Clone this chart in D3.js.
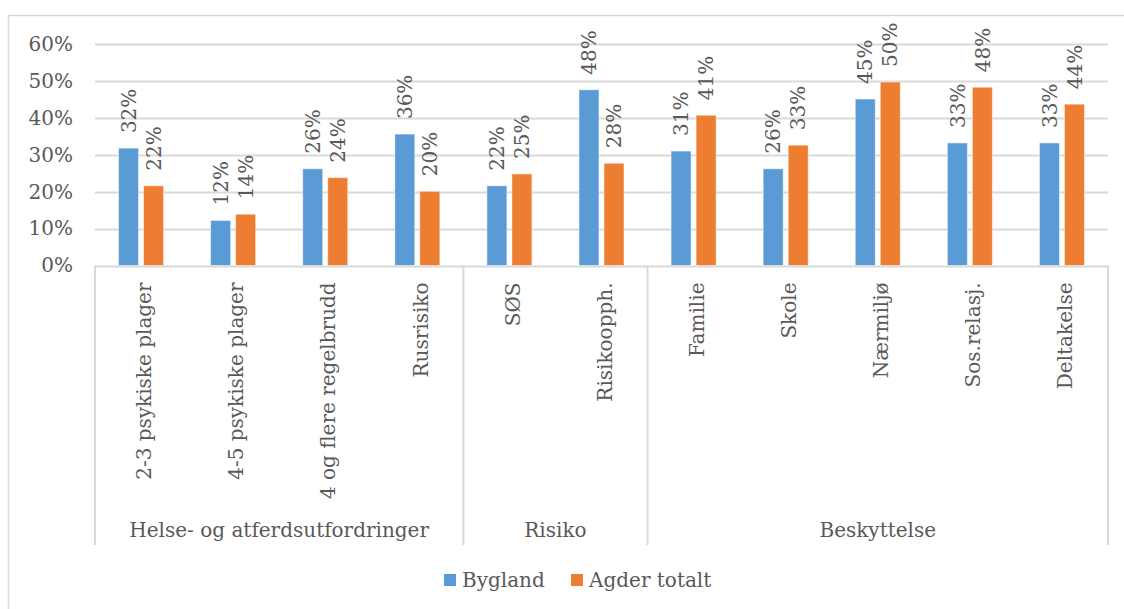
<!DOCTYPE html>
<html><head><meta charset="utf-8">
<script src="https://cdn.jsdelivr.net/npm/d3@7"></script>
<style>body{margin:0;background:#fff}svg{display:block}</style>
</head><body>
<svg id="c" width="1124" height="609"></svg>
<script>
const categories = ["2-3 psykiske plager","4-5 psykiske plager","4 og flere regelbrudd","Rusrisiko","SØS","Risikoopph.","Familie","Skole","Nærmiljø","Sos.relasj.","Deltakelse"];
const groups = [{name:"Helse- og atferdsutfordringer", n:4},{name:"Risiko", n:2},{name:"Beskyttelse", n:5}];
const seriesNames = ["Bygland","Agder totalt"];
const bygland = [0.318,0.122,0.262,0.356,0.216,0.476,0.31,0.262,0.451,0.332,0.332];
const agder   = [0.216,0.139,0.238,0.201,0.248,0.277,0.407,0.326,0.497,0.483,0.437];
const yTicks = [0,0.1,0.2,0.3,0.4,0.5,0.6];
const colors = ["#5B9BD5","#ED7D31"];

const svg = d3.select("#c");
const font = "'DejaVu Serif', serif";
const txt = "#595959";
const grid = "#D9D9D9";
const L = 95, R = 1108, T = 44, B = 265.5, boxBottom = 545;

// chart border
svg.append("path").attr("d","M8.5,609 V15.5 H1124").attr("fill","none").attr("stroke",grid).attr("stroke-width",1.5);

const x = d3.scaleBand().domain(categories).range([L,R]).paddingInner(0).paddingOuter(0);
const xs = d3.scaleBand().domain(seriesNames).range([0,x.bandwidth()]).paddingInner(0.2).paddingOuter(0.94).align(0.5);
const y = d3.scaleLinear().domain([0,0.6]).range([B,T]);

// gridlines
svg.append("g").selectAll("line").data(yTicks.slice(1)).join("line")
  .attr("x1",L).attr("x2",R).attr("y1",d=>Math.round(y(d))+0.5).attr("y2",d=>Math.round(y(d))+0.5)
  .attr("stroke",grid).attr("stroke-width",2);

// y axis labels
const yAxis = d3.axisLeft(y).tickValues(yTicks).tickFormat(d3.format(".0%")).tickSize(0).tickPadding(22);
const ya = svg.append("g").attr("transform",`translate(${L},0)`).call(yAxis);
ya.select(".domain").remove();
ya.selectAll("text").attr("font-family",font).attr("font-size",20).attr("fill",txt);

// bars
const data = categories.map((c,i)=>({c, vals:[bygland[i],agder[i]]}));
const cg = svg.append("g").selectAll("g").data(data).join("g").attr("transform",d=>`translate(${x(d.c)},0)`);
cg.selectAll("rect").data(d=>d.vals.map((v,j)=>({v,s:seriesNames[j],j}))).join("rect")
  .attr("x",d=>xs(d.s)).attr("width",xs.bandwidth())
  .attr("y",d=>y(d.v)).attr("height",d=>B-y(d.v))
  .attr("fill",d=>colors[d.j]).attr("stroke","#fff").attr("stroke-opacity",0.5).attr("stroke-width",1);
cg.selectAll("text").data(d=>d.vals.map((v,j)=>({v,s:seriesNames[j],j}))).join("text")
  .attr("transform",d=>`translate(${xs(d.s)+xs.bandwidth()/2},${y(d.v)-15}) rotate(-90)`)
  .attr("dy","0.36em").attr("text-anchor","start")
  .attr("font-family",font).attr("font-size",20).attr("fill",txt)
  .text(d=>d3.format(".0%")(d.v));

// x axis line
svg.append("line").attr("x1",L).attr("x2",R).attr("y1",B+1).attr("y2",B+1).attr("stroke",grid).attr("stroke-width",2);

// category labels
svg.append("g").selectAll("text").data(categories).join("text")
  .attr("transform",d=>`translate(${x(d)+x.bandwidth()/2+3},${B+17}) rotate(-90)`)
  .attr("dy","0.36em").attr("text-anchor","end")
  .attr("font-family",font).attr("font-size",20).attr("fill",txt).text(d=>d);

// group separators and labels
let start = 0; const bounds=[0];
groups.forEach(g=>{start+=g.n; bounds.push(start);});
svg.append("g").selectAll("line").data(bounds).join("line")
  .attr("x1",i=>i<categories.length? x(categories[i]) : R).attr("x2",i=>i<categories.length? x(categories[i]) : R)
  .attr("y1",B).attr("y2",boxBottom).attr("stroke",grid).attr("stroke-width",2);
svg.append("g").selectAll("text").data(groups).join("text")
  .attr("x",(g,i)=>{const a=x(categories[bounds[i]]); const b= bounds[i+1]<categories.length? x(categories[bounds[i+1]]):R; return (a+b)/2;})
  .attr("y",530).attr("dy","0.36em").attr("text-anchor","middle")
  .attr("font-family",font).attr("font-size",20).attr("fill",txt).text(g=>g.name);

// legend
const lg = svg.append("g");
const items = [{n:seriesNames[0],c:colors[0],x:444},{n:seriesNames[1],c:colors[1],x:571}];
items.forEach(it=>{
  lg.append("rect").attr("x",it.x).attr("y",574).attr("width",12).attr("height",12).attr("fill",it.c);
  lg.append("text").attr("x",it.x+18).attr("y",580).attr("dy","0.36em")
    .attr("font-family",font).attr("font-size",20).attr("fill",txt).text(it.n);
});
</script>
</body></html>
